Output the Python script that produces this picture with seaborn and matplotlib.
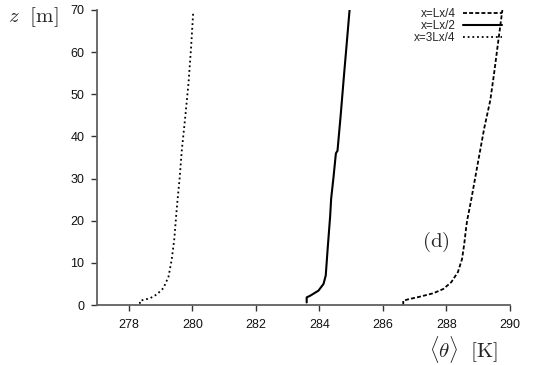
import matplotlib
matplotlib.use("Agg")
import matplotlib.pyplot as plt
import seaborn as sns
import pandas as pd

# Mean potential temperature profiles at three streamwise stations
z_quarter = [0.0, 1.0, 1.3, 2.0, 2.8, 3.8, 5.4, 7.8, 10.9, 14.5, 18.4, 20.0,
             25.0, 30.0, 35.0, 42.0, 48.6, 55.0, 62.0, 70.0]
theta_quarter = [286.64, 286.64, 286.77, 287.18, 287.59, 287.90, 288.15, 288.36,
                 288.49, 288.56, 288.62, 288.65, 288.78, 288.90, 289.02, 289.19,
                 289.38, 289.50, 289.62, 289.76]

z_half = [0.6, 1.8, 2.2, 3.4, 5.0, 7.0, 13.3, 21.2, 25.2, 30.0, 36.0, 36.6,
          45.0, 55.0, 62.0, 70.0]
theta_half = [283.60, 283.60, 283.71, 283.97, 284.13, 284.20, 284.26, 284.34,
              284.37, 284.44, 284.52, 284.57, 284.67, 284.78, 284.86, 284.95]

z_3quarter = [0.3, 1.0, 1.6, 2.5, 4.0, 6.7, 10.7, 15.4, 21.0, 24.5, 30.0,
              36.8, 44.0, 52.6, 61.0, 69.6]
theta_3quarter = [278.35, 278.35, 278.67, 278.88, 279.09, 279.25, 279.35, 279.43,
                  279.49, 279.53, 279.60, 279.67, 279.77, 279.88, 279.96, 280.03]

labels = ["x=Lx/4", "x=Lx/2", "x=3Lx/4"]
x_ticks = [278, 280, 282, 284, 286, 288, 290]
y_ticks = [0, 10, 20, 30, 40, 50, 60, 70]

sns.set_style("white")
plt.rcParams["font.family"] = ["Liberation Sans", "DejaVu Sans"]
plt.rcParams["mathtext.fontset"] = "cm"

fig = plt.figure(figsize=(5.34, 3.65), dpi=100)
ax = fig.add_axes([97 / 534, 1 - 305 / 365, (510 - 97) / 534, (305 - 10) / 365])

profiles = [
    (theta_quarter, z_quarter, (0, (2.2, 1.2)), 1.3),
    (theta_half, z_half, "-", 1.5),
    (theta_3quarter, z_3quarter, (0, (1.0, 1.6)), 1.3),
]
for (th, zz, ls, lw), lab in zip(profiles, labels):
    df = pd.DataFrame({"theta": th, "z": zz})
    sns.lineplot(data=df, x="theta", y="z", sort=False, estimator=None,
                 color="black", linestyle=ls, linewidth=lw, ax=ax, label=lab)

ax.set_xlim(277, 290)
ax.set_ylim(0, 70)
ax.set_xticks(x_ticks)
ax.set_yticks(y_ticks)
ax.set_xlabel("")
ax.set_ylabel("")

for side in ["top", "right"]:
    ax.spines[side].set_visible(False)
for side in ["left", "bottom"]:
    ax.spines[side].set_color("#606060")
    ax.spines[side].set_linewidth(1.3)
ax.tick_params(axis="both", direction="out", length=4, width=1.0,
               color="#333333", labelsize=9, labelcolor="#111111",
               left=True, bottom=True)
ax.tick_params(axis="y", pad=5)
ax.tick_params(axis="x", pad=6)

# Axis titles placed at the ends of the axes
fig.text(8 / 534, 1 - 17 / 365, r"$z\ \ [\mathrm{m}]$", fontsize=15,
         ha="left", va="center")
fig.text(463 / 534, 1 - 350 / 365, r"$\langle\theta\rangle\ \ [\mathrm{K}]$",
         fontsize=15, ha="center", va="center")
ax.text(287.65, 15.0, r"$\mathrm{(d)}$", fontsize=15,
        ha="center", va="center")

leg = ax.legend(loc="upper right", bbox_to_anchor=(1.0, 1.035), frameon=False,
                fontsize=8.5, handlelength=3.3, handletextpad=0.6,
                markerfirst=False, labelspacing=0.0, borderpad=0.2)
for t in leg.get_texts():
    t.set_ha("right")

fig.savefig("out.png", dpi=100)
